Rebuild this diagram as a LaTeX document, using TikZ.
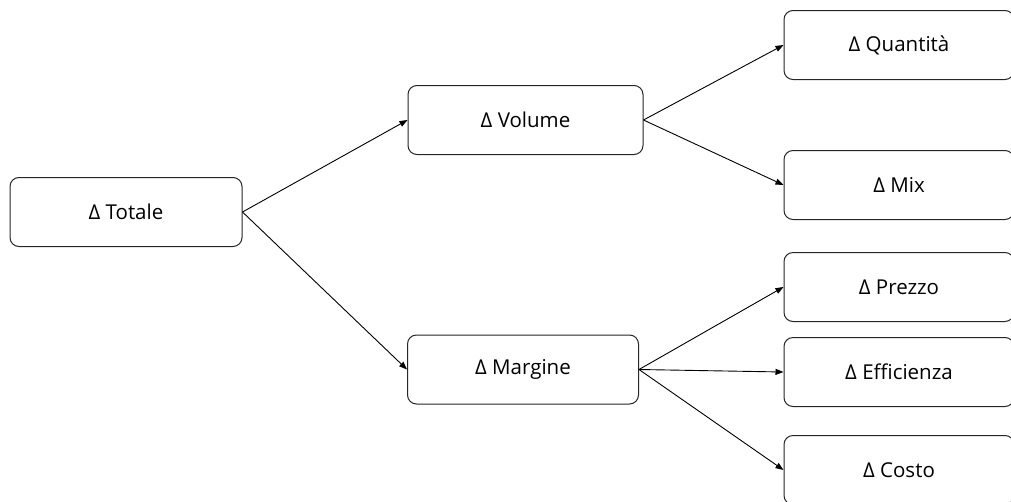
\documentclass[tikz,border=0pt]{standalone}
\usepackage{fontspec}
\setmainfont{Open Sans}
\usetikzlibrary{arrows.meta}
\begin{document}
\begin{tikzpicture}[x=1pt,y=-1pt,
box/.style={draw=black!85,line width=1pt,rounded corners=9pt,fill=white,
  minimum height=69pt,inner sep=0pt,font=\fontsize{20.5}{24}\selectfont},
myedge/.style={-{Triangle[length=8pt,width=6pt]},line width=0.9pt}]
\useasboundingbox (0,0) rectangle (1011,501);
\clip (0,0) rectangle (1011,501);
\node[box,minimum width=232pt] (T) at (126, 212) {Δ Totale};
\node[box,minimum width=235pt] (V) at (525.5, 120) {Δ Volume};
\node[box,minimum width=231pt] (M) at (523, 369.5) {Δ Margine};
\node[box,minimum width=230pt] (Q) at (899, 45) {Δ Quantità};
\node[box,minimum width=230pt] (X) at (899, 185) {Δ Mix};
\node[box,minimum width=230pt] (P) at (899, 287) {Δ Prezzo};
\node[box,minimum width=230pt] (E) at (899, 372) {Δ Efficienza};
\node[box,minimum width=230pt] (C) at (899, 470) {Δ Costo};
\draw[myedge] (T.east) -- (V.west);
\draw[myedge] (T.east) -- (M.west);
\draw[myedge] (V.east) -- (Q.west);
\draw[myedge] (V.east) -- (X.west);
\draw[myedge] (M.east) -- (P.west);
\draw[myedge] (M.east) -- (E.west);
\draw[myedge] (M.east) -- (C.west);
\end{tikzpicture}
\end{document}
